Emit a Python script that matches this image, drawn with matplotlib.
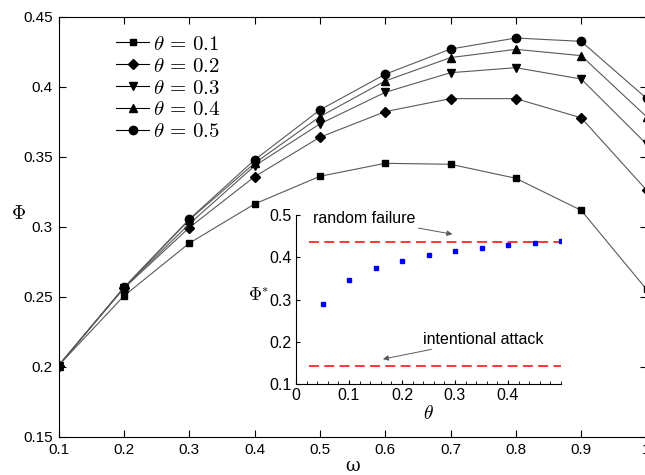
import numpy as np
import matplotlib
matplotlib.use('Agg')
import matplotlib.pyplot as plt
from matplotlib.ticker import FormatStrFormatter, MultipleLocator

plt.rcParams['font.family'] = 'Liberation Sans'
plt.rcParams['mathtext.fontset'] = 'cm'

# main panel: Phi vs omega for several theta
omega = [0.1, 0.2, 0.3, 0.4, 0.5, 0.6, 0.7, 0.8, 0.9, 1.0]
phi_t01 = [0.201, 0.2507, 0.2884, 0.3164, 0.3362, 0.3455, 0.3448, 0.3348, 0.3119, 0.2555]
phi_t02 = [0.201, 0.2562, 0.2995, 0.3359, 0.3641, 0.3824, 0.3917, 0.3917, 0.3780, 0.3264]
phi_t03 = [0.201, 0.2564, 0.3021, 0.3436, 0.3736, 0.3962, 0.4102, 0.4138, 0.4057, 0.3593]
phi_t04 = [0.201, 0.2566, 0.3050, 0.3455, 0.3788, 0.4043, 0.4210, 0.4269, 0.4224, 0.3788]
phi_t05 = [0.201, 0.2568, 0.3055, 0.3479, 0.3836, 0.4091, 0.4271, 0.4350, 0.4326, 0.3919]
theta_labels = [r'$\theta\, =\, 0.1$', r'$\theta\, =\, 0.2$', r'$\theta\, =\, 0.3$',
                r'$\theta\, =\, 0.4$', r'$\theta\, =\, 0.5$']
markers = ['s', 'D', 'v', '^', 'o']

# inset: Phi* vs theta
theta = [0.05, 0.1, 0.15, 0.2, 0.25, 0.3, 0.35, 0.4, 0.45, 0.5]
phi_star = [0.289, 0.3457, 0.374, 0.3913, 0.4055, 0.415, 0.4228, 0.429, 0.433, 0.4378]
random_failure = 0.4354
intentional_attack = 0.1417

fig = plt.figure(figsize=(6.45, 4.75), dpi=100)
ax = fig.add_axes([58.5 / 645, 38 / 475, 588 / 645, 420 / 475])

series = [phi_t01, phi_t02, phi_t03, phi_t04, phi_t05]
for vals, m, lab in zip(series, markers, theta_labels):
    ms = 5.5 if m == 'D' else 6
    if m == 's':
        ms = 5
    ax.plot(omega, vals, color='0.35', lw=0.8, marker=m, ms=ms,
            mfc='k', mec='k', label=lab)

ax.set_xlim(0.1, 1.0)
ax.set_ylim(0.15, 0.45)
ax.set_xticks(np.arange(0.1, 1.01, 0.1))
ax.set_yticks(np.arange(0.15, 0.451, 0.05))
ax.xaxis.set_major_formatter(FormatStrFormatter('%g'))
ax.yaxis.set_major_formatter(FormatStrFormatter('%g'))
ax.tick_params(direction='in', top=True, right=True, labelsize=11, length=5, pad=4)
ax.set_xlabel('ω', fontsize=13, family='DejaVu Serif', labelpad=0)
ax.set_ylabel(r'$\Phi$', fontsize=14, rotation=0, labelpad=8)
ax.yaxis.set_label_coords(-0.068, 0.51)
ax.xaxis.set_label_coords(0.5, -0.048)

leg = ax.legend(loc='upper left', bbox_to_anchor=(0.075, 0.99), frameon=False,
                fontsize=15, handlelength=1.6, handletextpad=0.15, labelspacing=0.14,
                borderaxespad=0.25)
for h in leg.legend_handles:
    h.set_color('k')

# inset
ins = fig.add_axes([296 / 645, 91 / 475, 265 / 645, 169 / 475])
ins.plot([0.025, 0.5], [random_failure, random_failure], color='r', ls='--', lw=1.1, dashes=(6.5, 3.5))
ins.plot([0.025, 0.5], [intentional_attack, intentional_attack], color='r', ls='--', lw=1.1, dashes=(6.5, 3.5))
ins.plot(theta, phi_star, ls='none', marker='s', ms=2.8, mfc='b', mec='b')
ins.set_xlim(0, 0.5)
ins.set_ylim(0.1, 0.5)
ins.set_xticks([0, 0.1, 0.2, 0.3, 0.4])
ins.set_yticks([0.1, 0.2, 0.3, 0.4, 0.5])
ins.xaxis.set_minor_locator(MultipleLocator(0.02))
ins.xaxis.set_major_formatter(FormatStrFormatter('%g'))
ins.yaxis.set_major_formatter(FormatStrFormatter('%g'))
ins.tick_params(direction='in', labelsize=11.5, length=3, pad=3)
ins.tick_params(which='minor', direction='in', length=2)
ins.spines['top'].set_visible(False)
ins.spines['right'].set_visible(False)
ins.patch.set_alpha(0)
ins.set_xlabel(r'$\theta$', fontsize=14, labelpad=1)
ins.set_ylabel(r'$\Phi^{*}$', fontsize=13, rotation=0, labelpad=0)
ins.yaxis.set_label_coords(-0.14, 0.47)

arrow = dict(arrowstyle='-|>', color='0.35', lw=0.7, mutation_scale=8, shrinkA=0, shrinkB=0)
ins.annotate('random failure', xy=(0.295, 0.4545), xytext=(0.226, 0.492),
             fontsize=11.5, ha='right', va='center', arrowprops=arrow)
ins.annotate('intentional attack', xy=(0.164, 0.159), xytext=(0.239, 0.2063),
             fontsize=11.5, ha='left', va='center', arrowprops=arrow)

fig.savefig('out.png', dpi=100)
